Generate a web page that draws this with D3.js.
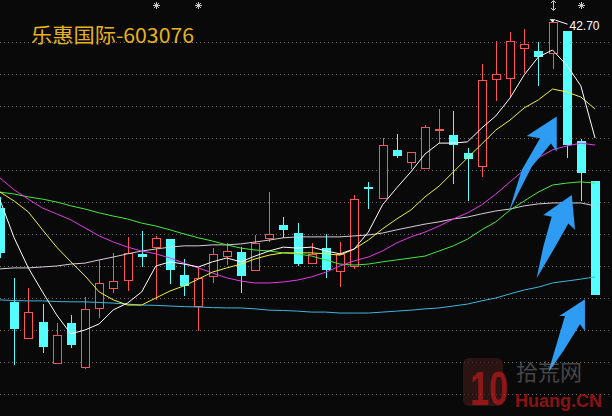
<!DOCTYPE html>
<html><head><meta charset="utf-8">
<script src="https://cdn.jsdelivr.net/npm/d3@7"></script>
<style>html,body{margin:0;padding:0;background:#090909;overflow:hidden}</style>
</head><body>
<script>
const W = 612, H = 416;
const title = "乐惠国际-603076";
const highLabel = "42.70";

// daily candles (index 0 = leftmost, partially visible)
const open  = [36.86,33.93,32.77,33.30,31.99,33.27,31.86,33.71,34.33,34.58,35.43,35.61,35.89,34.77,33.77,34.71,35.33,35.49,34.89,35.89,36.33,36.08,35.11,35.61,34.86,35.02,37.52,37.14,38.68,38.27,38.08,39.27,39.14,38.58,38.14,40.86,40.89,41.83,41.77,41.68,42.39,38.96,37.71];
const close = [35.46,33.08,33.61,32.52,32.89,32.58,33.71,34.52,34.58,35.46,35.33,35.93,34.93,34.43,34.68,35.43,35.52,34.74,35.77,36.05,36.18,35.11,35.43,34.93,35.43,37.14,37.46,38.83,38.49,38.61,39.39,39.33,38.83,38.39,40.86,41.05,42.08,41.99,41.58,42.68,38.83,37.96,34.14];
const high  = [37.21,34.68,34.36,33.86,33.27,33.52,34.08,35.24,35.46,35.96,36.14,35.99,35.89,35.27,35.02,35.61,35.77,35.64,36.02,37.36,36.58,36.39,35.77,36.05,35.80,37.27,37.68,39.05,39.18,38.61,39.46,39.96,39.89,38.74,41.36,42.08,42.36,42.46,42.05,42.70,42.39,39.02,37.71];
const low   = [35.30,31.96,32.77,32.33,31.99,32.49,31.83,33.43,34.21,34.27,35.02,33.99,34.49,34.11,33.02,34.52,35.08,34.21,34.89,35.80,35.93,35.05,35.11,34.68,34.39,34.96,36.83,37.14,38.43,38.08,38.08,38.89,37.61,37.08,37.83,40.21,40.33,41.08,40.68,41.21,38.43,37.08,34.14];

// moving averages
const ma5   = [37.11,35.93,34.99,34.24,33.52,32.93,33.05,33.24,33.68,33.89,34.24,35.05,35.18,35.11,35.02,35.18,35.30,35.18,35.36,35.52,35.64,35.61,35.64,35.52,35.43,35.58,36.11,36.96,37.49,37.99,38.55,38.89,38.89,38.93,39.36,39.74,40.30,41.02,41.58,41.80,41.33,40.68,39.05];
const ma10  = [37.36,37.08,36.74,36.18,35.64,35.18,34.74,34.24,33.99,33.83,33.83,34.05,34.27,34.43,34.64,34.86,34.99,35.11,35.27,35.39,35.46,35.46,35.46,35.43,35.39,35.58,35.86,36.21,36.52,36.80,37.21,37.55,37.99,38.43,38.86,39.30,39.61,39.99,40.24,40.58,40.49,40.33,39.96];
const ma20  = [37.80,37.43,37.14,36.86,36.68,36.49,36.24,35.99,35.80,35.64,35.52,35.43,35.30,35.14,34.99,34.83,34.68,34.58,34.52,34.52,34.55,34.61,34.71,34.86,35.05,35.21,35.33,35.52,35.77,35.96,36.11,36.30,36.52,36.71,36.96,37.30,37.68,38.05,38.43,38.68,38.80,38.89,38.83];
const ma30  = [37.36,37.30,37.21,37.14,37.05,36.93,36.83,36.71,36.61,36.52,36.39,36.30,36.18,36.05,35.93,35.83,35.71,35.61,35.55,35.52,35.46,35.43,35.36,35.24,35.11,35.08,35.11,35.18,35.24,35.30,35.36,35.52,35.68,35.89,36.18,36.43,36.80,37.08,37.36,37.58,37.64,37.68,37.64];
const ma60  = [34.96,34.99,34.99,35.02,35.05,35.11,35.14,35.24,35.33,35.43,35.52,35.58,35.64,35.68,35.68,35.71,35.71,35.74,35.80,35.86,35.93,35.96,35.96,35.96,35.96,35.99,36.02,36.08,36.18,36.27,36.36,36.43,36.52,36.58,36.68,36.77,36.83,36.93,36.99,37.02,37.02,37.02,36.93];
const ma120 = [33.99,33.97,33.96,33.96,33.94,33.93,33.93,33.91,33.89,33.86,33.83,33.82,33.80,33.78,33.77,33.75,33.74,33.74,33.71,33.67,33.66,33.64,33.61,33.61,33.58,33.58,33.58,33.61,33.64,33.67,33.71,33.74,33.80,33.86,33.96,34.05,34.18,34.30,34.39,34.52,34.58,34.64,34.71];

const gridPrices = [42.05,41.05,40.05,39.05,38.05,37.05,36.05,35.05,34.05,33.05,32.05,31.05];
const starMarks = [11,14,41];
const flagMarks = [39];

// annotation arrows in (candle index, price)
const arrow1 = [[39.30,39.72],[37.18,39.11],[38.12,39.04],[36.83,38.05],[35.93,36.75],[37.53,38.15],[38.89,38.88],[39.30,38.62]];
const arrow2 = [[40.36,37.27],[38.35,36.64],[38.94,36.59],[38.35,35.65],[37.88,34.67],[39.06,35.55],[40.12,36.38],[40.59,36.18]];
const arrow3 = [[41.29,34.01],[39.48,33.49],[39.88,33.49],[39.18,32.45],[38.70,31.72],[39.76,32.39],[40.94,33.23],[41.29,33.02]];

const BG = "#090909", UP = "#ff5454", DOWN = "#54ffff";

const svg = d3.select("body").append("svg").attr("width", W).attr("height", H);
svg.append("rect").attr("width", W).attr("height", H).attr("fill", BG);

const x = d3.scaleLinear().domain([0, 42]).range([0, 595]);
const y = d3.scaleLinear().domain([30.3625, 43.3625]).range([H, 0]);

// grid
svg.append("g").selectAll("line").data(gridPrices).join("line")
  .attr("x1", 0).attr("x2", W)
  .attr("y1", d => Math.round(y(d)) + 0.5).attr("y2", d => Math.round(y(d)) + 0.5)
  .attr("stroke", "#6a6a6a").attr("stroke-dasharray", "1,3");

// candles
const gC = svg.append("g");
open.forEach((o, i) => {
  const c = close[i];
  const cx = Math.round(x(i)) + 0.5;
  const up = c >= o;
  const yh = Math.round(y(high[i])), yl = Math.round(y(low[i]));
  const top = Math.round(y(Math.max(o, c))), bot = Math.round(y(Math.min(o, c)));
  if (up) {
    if (top > yh) gC.append("line").attr("x1", cx).attr("x2", cx).attr("y1", yh).attr("y2", top).attr("stroke", UP);
    if (yl > bot) gC.append("line").attr("x1", cx).attr("x2", cx).attr("y1", bot).attr("y2", yl).attr("stroke", UP);
    gC.append("rect").attr("x", cx - 4).attr("y", top + 0.5).attr("width", 8).attr("height", Math.max(bot - top - 1, 0))
      .attr("fill", BG).attr("stroke", UP);
  } else {
    if (yl > yh) gC.append("line").attr("x1", cx).attr("x2", cx).attr("y1", yh).attr("y2", yl).attr("stroke", DOWN);
    gC.append("rect").attr("x", cx - 4.5).attr("y", top).attr("width", 9).attr("height", Math.max(bot - top, 1)).attr("fill", DOWN);
  }
});

// moving averages
const lineGen = d3.line().x((d, i) => x(i)).y(d => y(d));
const mas = [[ma120, "#3fb6dc"], [ma60, "#d6cdd6"], [ma30, "#44e844"], [ma20, "#e23ce2"], [ma10, "#f0f040"], [ma5, "#ffffff"]];
mas.forEach(([arr, col]) => {
  svg.append("path").attr("d", lineGen(arr)).attr("fill", "none").attr("stroke", col).attr("stroke-width", 1);
});

// arrows
const arrowGen = d3.line().x(d => x(d[0])).y(d => y(d[1]));
[arrow1, arrow2, arrow3].forEach(a => {
  svg.append("path").attr("d", arrowGen(a) + "Z").attr("fill", "#2d9cf2");
});

// top markers
const gM = svg.append("g").attr("stroke", "#c8c8c8").attr("stroke-width", 1);
starMarks.forEach(i => {
  const cx = Math.round(x(i)) + 0.5, cy = 5.5;
  gM.append("line").attr("x1", cx - 3.5).attr("x2", cx + 3.5).attr("y1", cy).attr("y2", cy);
  gM.append("line").attr("x1", cx).attr("x2", cx).attr("y1", cy - 3.5).attr("y2", cy + 3.5);
  gM.append("line").attr("x1", cx - 2.5).attr("x2", cx + 2.5).attr("y1", cy - 2.5).attr("y2", cy + 2.5);
  gM.append("line").attr("x1", cx - 2.5).attr("x2", cx + 2.5).attr("y1", cy + 2.5).attr("y2", cy - 2.5);
});
flagMarks.forEach(i => {
  const cx = Math.round(x(i)) + 0.5;
  gM.append("line").attr("x1", cx).attr("x2", cx).attr("y1", 1).attr("y2", 10);
  gM.append("path").attr("d", `M${cx-2.5},3 L${cx},0.5 L${cx+2.5},3 M${cx-2.5},8 L${cx},10.5 L${cx+2.5},8`).attr("fill", "none");
});

// high label
const hx = x(39), hy = y(42.70);
svg.append("path").attr("d", `M${hx-3},${hy-2} L${hx+3},${hy-2} L${hx},${hy+1} Z`).attr("fill", "#ffffff");
svg.append("line").attr("x1", hx + 3).attr("y1", hy - 1).attr("x2", hx + 15).attr("y2", hy + 3).attr("stroke", "#ffffff");
svg.append("text").attr("x", hx + 17).attr("y", hy + 9).attr("fill", "#ffffff")
  .attr("font-family", "Liberation Sans, Arial, sans-serif").attr("font-size", 12).text(highLabel);

// title
svg.append("text").attr("x", 31).attr("y", 43).attr("fill", "#e6b31e")
  .attr("font-family", "Noto Sans CJK SC, sans-serif").attr("font-size", 20)
  .attr("textLength", 163).attr("lengthAdjust", "spacingAndGlyphs").text(title);

// watermark
const wm = svg.append("g").attr("opacity", 0.7);
wm.append("rect").attr("x", 463).attr("y", 358).attr("width", 40).attr("height", 48).attr("rx", 6).attr("fill", "#3a1a1a");
wm.append("text").attr("x", 470).attr("y", 405).attr("fill", "#c81e1e").attr("font-family", "Liberation Sans, Arial").attr("font-weight", "bold").attr("font-size", 48)
  .attr("textLength", 38).attr("lengthAdjust", "spacingAndGlyphs").text("10");
wm.append("text").attr("x", 516).attr("y", 380).attr("fill", "#9a9a9a").attr("font-family", "Noto Sans CJK SC").attr("font-size", 22).attr("opacity", 0.6).text("拾荒网");
wm.append("text").attr("x", 515).attr("y", 407).attr("fill", "#c01818").attr("font-family", "Liberation Sans, Arial").attr("font-weight", "bold").attr("font-size", 18).text("Huang.CN");
</script>
</body></html>
